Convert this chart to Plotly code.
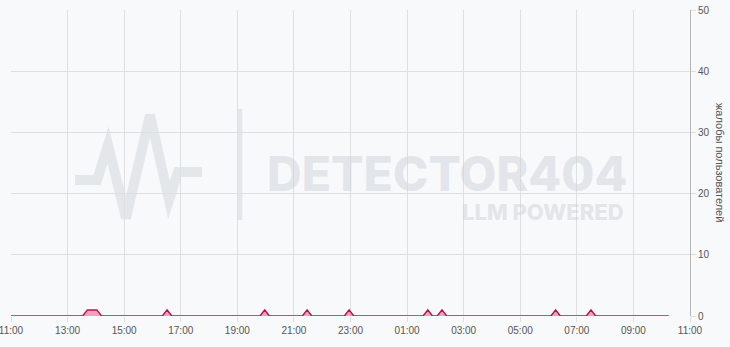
import plotly.graph_objects as go

# ---- data ----
times = [
    "2024-01-01 11:00",
    "2024-01-01 13:32", "2024-01-01 13:42", "2024-01-01 13:52", "2024-01-01 14:02", "2024-01-01 14:12",
    "2024-01-01 16:21", "2024-01-01 16:31", "2024-01-01 16:41",
    "2024-01-01 19:48", "2024-01-01 19:58", "2024-01-01 20:08",
    "2024-01-01 21:18", "2024-01-01 21:28", "2024-01-01 21:38",
    "2024-01-01 22:47", "2024-01-01 22:57", "2024-01-01 23:07",
    "2024-01-02 01:34", "2024-01-02 01:44", "2024-01-02 01:54",
    "2024-01-02 02:04", "2024-01-02 02:14", "2024-01-02 02:24",
    "2024-01-02 06:05", "2024-01-02 06:15", "2024-01-02 06:25",
    "2024-01-02 07:20", "2024-01-02 07:30", "2024-01-02 07:40",
    "2024-01-02 10:15",
]
complaints = [
    0,
    0, 1, 1, 1, 0,
    0, 1, 0,
    0, 1, 0,
    0, 1, 0,
    0, 1, 0,
    0, 1, 0,
    0, 1, 0,
    0, 1, 0,
    0, 1, 0,
    0,
]
x_range = ["2024-01-01 11:00", "2024-01-02 11:00"]
y_range = [0, 50]
y_title = "жалобы пользователей"
wm_title = "DETECTOR404"
wm_sub = "LLM POWERED"

W, H = 730, 347
L, R, T, B = 11, 40, 10, 31
PW, PH = W - L - R, H - T - B


def px(x):
    return (x - L) / PW


def py(y):
    return (H - B - y) / PH


BG = "#f8f9fa"
GRID = "#dedfe1"
WM = "#e4e7ea"
WM_TXT = "rgba(208,213,218,0.55)"

fig = go.Figure()
fig.add_trace(go.Scatter(
    x=times, y=complaints, mode="lines",
    line=dict(color="#b8144f", width=1.5),
    fill="tozeroy", fillcolor="rgba(238,100,150,0.6)",
    hoverinfo="skip", showlegend=False,
))

# watermark logo (heartbeat + separator)
pts = [(75, 180), (97, 180), (108, 145), (126, 218), (150, 115), (169, 200), (178, 172), (202, 172)]
path = "M " + " L ".join(f"{px(a):.5f},{py(b):.5f}" for a, b in pts)
shapes = [
    dict(type="path", path=path, xref="paper", yref="paper",
         line=dict(color=WM, width=10), layer="below"),
    dict(type="line", xref="paper", yref="paper",
         x0=px(240), x1=px(240), y0=py(109), y1=py(220),
         line=dict(color=WM, width=4.5), layer="below"),
]

annotations = [
    dict(text=wm_title, xref="paper", yref="paper", x=px(447), y=py(173),
         xanchor="center", yanchor="middle", showarrow=False,
         font=dict(family="Inter", size=48, color=WM_TXT, weight=800)),
    dict(text=wm_sub, xref="paper", yref="paper", x=px(626), y=py(212),
         xanchor="right", yanchor="middle", showarrow=False,
         font=dict(family="Inter", size=22, color=WM_TXT, weight=800)),
    dict(text=y_title, xref="paper", yref="paper", x=px(720), y=py(162),
         xanchor="center", yanchor="middle", showarrow=False, textangle=90,
         font=dict(family="Liberation Sans, Arial", size=11, color="#555555")),
]

fig.update_layout(
    width=W, height=H, autosize=False,
    margin=dict(l=L, r=R, t=T, b=B, pad=0),
    paper_bgcolor=BG, plot_bgcolor=BG,
    font=dict(family="Liberation Sans, Arial", size=10, color="#555555"),
    shapes=shapes, annotations=annotations,
    xaxis=dict(
        type="date", range=x_range, tick0="2024-01-01 11:00", dtick=2 * 3600 * 1000,
        tickformat="%H:%M", showgrid=True, gridcolor=GRID, gridwidth=1,
        ticks="outside", ticklen=5, tickcolor=GRID, showline=False, zeroline=False,
        tickfont=dict(size=10, color="#555555"), automargin=False,
        ticklabeloverflow="allow",
    ),
    yaxis=dict(
        side="right", range=y_range, dtick=10, showgrid=True, gridcolor=GRID,
        ticks="outside", ticklen=5, tickcolor=GRID, showline=True,
        linecolor="#b5b5b5", linewidth=1, zeroline=False,
        tickfont=dict(size=10, color="#555555"), automargin=False,
        ticklabeloverflow="allow",
    ),
)

fig.write_html("out.html")
